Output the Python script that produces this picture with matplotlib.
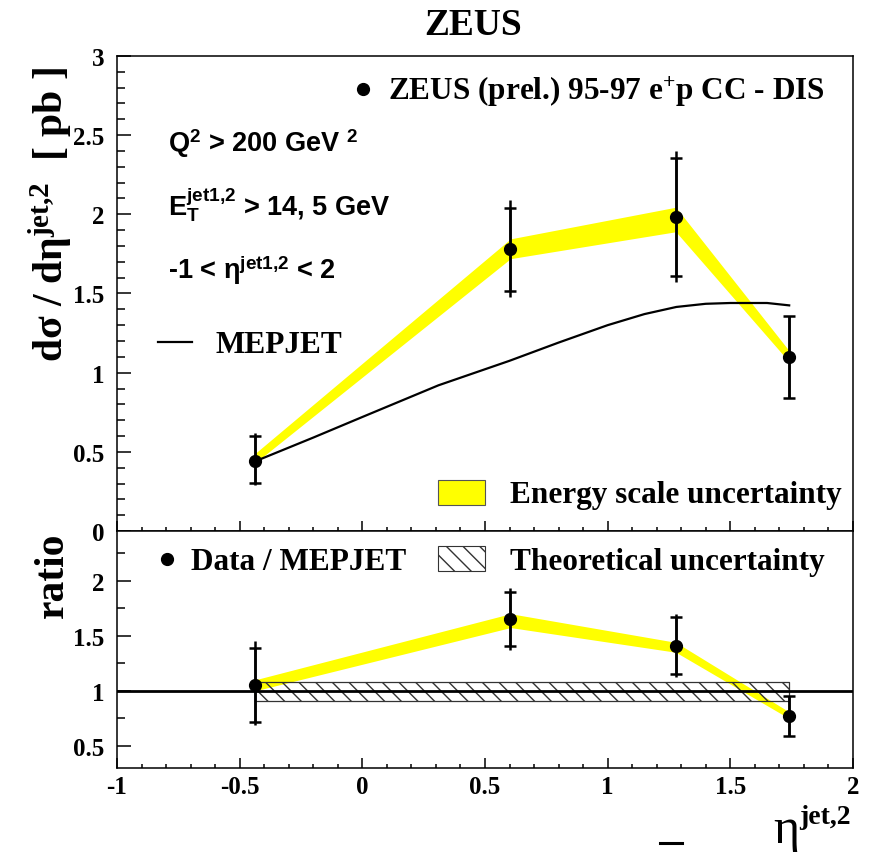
import matplotlib
matplotlib.use('Agg')
import matplotlib.pyplot as plt
from matplotlib.patches import Rectangle
from matplotlib.lines import Line2D
from matplotlib.ticker import MultipleLocator

plt.rcParams['font.family'] = 'Liberation Serif'
plt.rcParams['font.weight'] = 'bold'
plt.rcParams['mathtext.fontset'] = 'custom'
plt.rcParams['mathtext.rm'] = 'Liberation Serif:bold'
plt.rcParams['mathtext.it'] = 'Liberation Serif:bold'
plt.rcParams['mathtext.bf'] = 'Liberation Serif:bold'
plt.rcParams['mathtext.sf'] = 'Liberation Sans:bold'

# data points (eta^jet,2 bin centres)
eta = [-0.437, 0.604, 1.278, 1.739]

# cross section [pb]
xsec = [0.442, 1.781, 1.980, 1.097]
xsec_stat_lo = [0.141, 0.267, 0.367, 0.259]
xsec_stat_hi = [0.160, 0.260, 0.376, 0.263]
xsec_tot_lo = [0.152, 0.305, 0.409, 0.259]
xsec_tot_hi = [0.175, 0.312, 0.417, 0.263]
esc_lo = [0.43, 1.72, 1.89, 1.07]
esc_hi = [0.49, 1.845, 2.045, 1.14]

# MEPJET prediction
mep_eta = [-0.437, -0.2, 0.0, 0.31, 0.6, 0.8, 1.0, 1.15, 1.28, 1.4, 1.5, 1.65, 1.74]
mep_xsec = [0.44, 0.59, 0.72, 0.92, 1.075, 1.19, 1.30, 1.37, 1.415, 1.435, 1.44, 1.44, 1.425]

# ratio data / MEPJET
ratio = [1.054, 1.649, 1.408, 0.768]
ratio_stat_lo = [0.337, 0.241, 0.255, 0.180]
ratio_stat_hi = [0.333, 0.246, 0.265, 0.184]
ratio_tot_lo = [0.367, 0.280, 0.285, 0.180]
ratio_tot_hi = [0.399, 0.285, 0.286, 0.184]
ratio_esc_lo = [1.00, 1.574, 1.35, 0.75]
ratio_esc_hi = [1.10, 1.70, 1.44, 0.81]
theo_x = [-0.437, 1.739]
theo_lo = [0.91, 0.91]
theo_hi = [1.08, 1.08]

YELLOW = '#ffff00'
TXT = 22.5   # legend / label text size
SANS = 19.5  # cut description text size

fig = plt.figure(figsize=(8.71, 8.53), dpi=100)
ax1 = fig.add_axes([0.1343, 0.3763, 0.845, 0.5569])
ax2 = fig.add_axes([0.1343, 0.0985, 0.845, 0.2778])


def style_axis(ax):
    ax.set_xlim(-1, 2)
    ax.xaxis.set_major_locator(MultipleLocator(0.5))
    ax.xaxis.set_minor_locator(MultipleLocator(0.1))
    ax.tick_params(direction='in', which='both', top=False, right=False,
                   labelsize=18, width=1.1)
    ax.tick_params(axis='y', which='major', length=10, pad=9)
    ax.tick_params(axis='y', which='minor', length=5.5)
    ax.tick_params(axis='x', which='major', length=7, pad=5)
    ax.tick_params(axis='x', which='minor', length=3.2)
    for s in ax.spines.values():
        s.set_linewidth(1.1)


def draw_points(ax, y, stat_lo, stat_hi, tot_lo, tot_hi):
    ax.errorbar(eta, y, yerr=[tot_lo, tot_hi], fmt='none', ecolor='black',
                elinewidth=1.8, capsize=0, zorder=5)
    ax.errorbar(eta, y, yerr=[stat_lo, stat_hi], fmt='none', ecolor='black',
                elinewidth=1.8, capsize=4.3, capthick=1.8, zorder=5)
    ax.plot(eta, y, 'o', color='black', ms=8.5, zorder=6)


fmt_g = plt.FuncFormatter(lambda v, p: f'{v:g}')

# ---- upper panel: cross section ----
style_axis(ax1)
ax1.set_ylim(0, 3)
ax1.yaxis.set_major_locator(MultipleLocator(0.5))
ax1.yaxis.set_minor_locator(MultipleLocator(0.1))
ax1.tick_params(axis='x', labelbottom=False)
ax1.yaxis.set_major_formatter(fmt_g)

ax1.fill_between(eta, esc_lo, esc_hi, color=YELLOW, lw=0, zorder=2)
ax1.plot(mep_eta, mep_xsec, color='black', lw=1.6, zorder=3)
draw_points(ax1, xsec, xsec_stat_lo, xsec_stat_hi, xsec_tot_lo, xsec_tot_hi)

ax1.plot([0.334], [0.931], 'o', color='black', ms=8.5, transform=ax1.transAxes)
ax1.text(0.368, 0.909, r'ZEUS (prel.) 95-97 e$^{+}$p CC - DIS', fontsize=TXT,
         transform=ax1.transAxes, va='baseline')
ax1.text(0.069, 0.8006, r'Q$^{\mathsf{2}}$ > 200 GeV $^{\mathsf{2}}$',
         family='Liberation Sans', fontsize=SANS, transform=ax1.transAxes,
         va='baseline')
ax1.text(0.069, 0.667, r'E$_{\mathsf{T}}^{\mathsf{jet1{,}2}}$ > 14, 5 GeV',
         family='Liberation Sans', fontsize=SANS, transform=ax1.transAxes,
         va='baseline')
ax1.text(0.069, 0.5326, r'-1 < η$^{\mathsf{jet1{,}2}}$ < 2',
         family='Liberation Sans', fontsize=SANS, transform=ax1.transAxes,
         va='baseline')
ax1.plot([0.0557, 0.102], [0.398, 0.398], color='black', lw=1.6,
         transform=ax1.transAxes)
ax1.text(0.1345, 0.377, 'MEPJET', fontsize=TXT, transform=ax1.transAxes,
         va='baseline')
ax1.add_patch(Rectangle((0.436, 0.055), 0.064, 0.052, facecolor=YELLOW,
                        edgecolor='#555555', lw=0.8, transform=ax1.transAxes))
ax1.text(0.534, 0.061, 'Energy scale uncertainty', fontsize=TXT,
         transform=ax1.transAxes, va='baseline')

# ---- lower panel: ratio ----
style_axis(ax2)
ax2.set_ylim(0.3, 2.45)
ax2.yaxis.set_major_locator(MultipleLocator(0.5))
ax2.yaxis.set_minor_locator(MultipleLocator(0.25))
ax2.xaxis.set_major_formatter(fmt_g)
ax2.yaxis.set_major_formatter(fmt_g)

ax2.fill_between(eta, ratio_esc_lo, ratio_esc_hi, color=YELLOW, lw=0, zorder=2)
ax2.fill_between(theo_x, theo_lo, theo_hi, facecolor='none', edgecolor='#333333',
                 hatch='\\\\', lw=0.9, zorder=3)
ax2.axhline(1.0, color='black', lw=2.0, zorder=4)
draw_points(ax2, ratio, ratio_stat_lo, ratio_stat_hi, ratio_tot_lo, ratio_tot_hi)

ax2.plot([0.068], [0.882], 'o', color='black', ms=8.5, transform=ax2.transAxes)
ax2.text(0.1005, 0.84, 'Data / MEPJET', fontsize=TXT, transform=ax2.transAxes,
         va='baseline')
ax2.add_patch(Rectangle((0.436, 0.831), 0.064, 0.106, facecolor='none',
                        edgecolor='#333333', hatch='\\\\', lw=0.8,
                        transform=ax2.transAxes))
ax2.text(0.534, 0.84, 'Theoretical uncertainty', fontsize=TXT,
         transform=ax2.transAxes, va='baseline')

# ---- titles and axis labels ----
fig.text(0.543, 0.959, 'ZEUS', fontsize=27, ha='center', va='baseline')
fig.text(0.057, 0.748, r'dσ / dη$^{\mathrm{jet{,}2}}$  [ pb ]', fontsize=30,
         rotation=90, ha='center', va='center')
fig.text(0.061, 0.326, 'ratio', fontsize=30, rotation=90, ha='center',
         va='center')
fig.text(0.8875, 0.012, 'η', fontsize=36, fontweight='normal', ha='left',
         va='baseline')
fig.text(0.917, 0.0335, 'jet,2', fontsize=20, ha='left', va='baseline')
# clipped fragment at the bottom edge of the original figure
fig.add_artist(Line2D([0.758, 0.783], [0.0105, 0.0105], color='black', lw=2.2))

fig.savefig('out.png', dpi=100)
